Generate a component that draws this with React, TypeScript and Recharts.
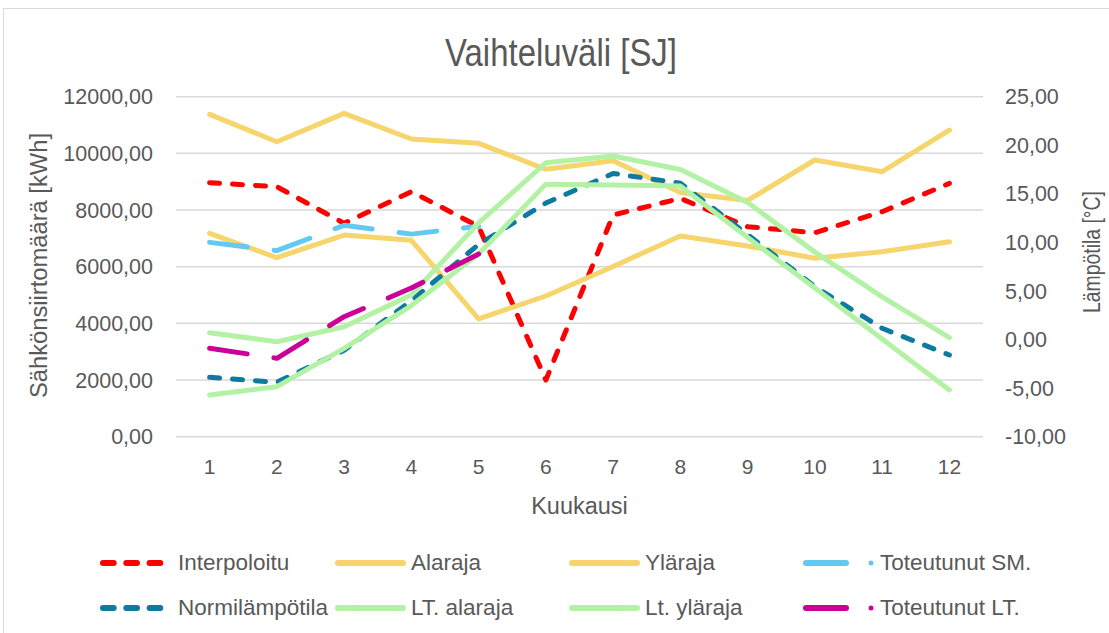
import { ComposedChart, Line, XAxis, YAxis, CartesianGrid } from 'recharts';

// values
const months = [1, 2, 3, 4, 5, 6, 7, 8, 9, 10, 11, 12];
const interpoloitu = [8965, 8824, 7531, 8650, 7420, 2000, 7824, 8412, 7412, 7200, 7941, 8942];
const alaraja = [7178, 6318, 7118, 6930, 4160, 4966, 6010, 7083, 6730, 6296, 6530, 6883];
const ylaraja = [11378, 10411, 11413, 10506, 10354, 9437, 9741, 8620, 8340, 9766, 9353, 10824];
const toteutunutSM = [6859, 6565, 7460, 7150, 7430];
const normilampotila = [-3.89, -4.4, -1.1, 4.0, 9.8, 14.05, 17.1, 16.1, 10.8, 5.44, 1.16, -1.59];
const ltAlaraja = [-5.71, -4.85, -0.9, 3.5, 8.8, 16.0, 15.9, 15.8, 10.5, 5.3, 0.05, -5.19];
const ltYlaraja = [0.71, -0.22, 1.32, 4.6, 12.0, 18.2, 18.9, 17.5, 14.1, 9.0, 4.4, 0.19];
const toteutunutLT = [-0.9, -1.93, 2.35, 5.3, 8.8];

const kwhTicks = [0, 2000, 4000, 6000, 8000, 10000, 12000];
const tempTicks = [-10, -5, 0, 5, 10, 15, 20, 25];

const rows = months.map((m, i) => ({
  month: m,
  interpoloitu: interpoloitu[i],
  alaraja: alaraja[i],
  ylaraja: ylaraja[i],
  toteutunutSM: toteutunutSM[i],
  normi: normilampotila[i],
  ltAla: ltAlaraja[i],
  ltYla: ltYlaraja[i],
  toteutunutLT: toteutunutLT[i],
}));

const SHORT = '10 13';
const LONG = '38 27';

const series = [
  { key: 'interpoloitu', name: 'Interpoloitu', color: '#ff0000', dash: SHORT, axis: 'left' },
  { key: 'alaraja', name: 'Alaraja', color: '#f5d56c', dash: undefined, axis: 'left' },
  { key: 'ylaraja', name: 'Yläraja', color: '#f5d56c', dash: undefined, axis: 'left' },
  { key: 'toteutunutSM', name: 'Toteutunut SM.', color: '#62c9f0', dash: LONG, axis: 'left' },
  { key: 'normi', name: 'Normilämpötila', color: '#0e7aa0', dash: SHORT, axis: 'right' },
  { key: 'ltAla', name: 'LT. alaraja', color: '#b3f2a5', dash: undefined, axis: 'right' },
  { key: 'ltYla', name: 'Lt. yläraja', color: '#b3f2a5', dash: undefined, axis: 'right' },
  { key: 'toteutunutLT', name: 'Toteutunut LT.', color: '#cc0099', dash: LONG, axis: 'right' },
];

const TEXT = '#595959';
const FONT = "'Liberation Sans', Arial, sans-serif";

const fmt = (v: number) => v.toFixed(2).replace('.', ',');

const legendCols = [100, 335, 569, 803];
const legendRowsY = [563, 608];

function LegendItem({ s, x, y }: { s: typeof series[number]; x: number; y: number }) {
  const isLong = s.dash === LONG;
  const end = isLong ? x + 46 : s.dash ? x + 65 : x + 71;
  const textX = isLong ? x + 77 : s.dash ? x + 78 : x + 76;
  return (
    <g>
      <line x1={x + 3} y1={y} x2={end - 3} y2={y} stroke={s.color} strokeWidth={6}
        strokeDasharray={s.dash === SHORT ? '10.7 12.6' : undefined} strokeLinecap="round" />
      {isLong && <circle cx={x + 68} cy={y} r={2.5} fill={s.color} />}
      <text x={textX} y={y - 1} dominantBaseline="central" fontSize={22.5} fontFamily={FONT} fill={TEXT}>
        {s.name}
      </text>
    </g>
  );
}

export default function App() {
  return (
    <div style={{ position: 'absolute', left: 0, top: 0, width: 1109, height: 633, background: '#fff', overflow: 'hidden' }}>
      <div style={{ position: 'absolute', left: 3, top: 8, width: 1140, height: 660, border: '1.5px solid #d9d9d9' }} />
      <ComposedChart width={1109} height={633} data={rows}
        margin={{ top: 96.7, right: 46, bottom: 166.3, left: 96 }}
        style={{ position: 'absolute', left: 0, top: 0 }}>
        <CartesianGrid vertical={false} stroke="#d9d9d9" strokeWidth={1.5} yAxisId="left" />
        <XAxis dataKey="month" height={30} axisLine={false} tickLine={false} tickSize={0} tickMargin={22}
          padding={{ left: 33.6, right: 33.6 }}
          tick={{ fontSize: 21, fill: TEXT, fontFamily: FONT }} interval={0} />
        <YAxis yAxisId="left" width={80} domain={[0, 12000]} ticks={kwhTicks} axisLine={false} tickLine={false}
          tickSize={0} tickMargin={23} tickFormatter={fmt}
          tick={{ fontSize: 21.5, fill: TEXT, fontFamily: FONT }} />
        <YAxis yAxisId="right" orientation="right" width={80} domain={[-10, 25]} ticks={tempTicks} axisLine={false}
          tickLine={false} tickSize={0} tickMargin={22} tickFormatter={fmt}
          tick={{ fontSize: 21.5, fill: TEXT, fontFamily: FONT }} />
        {series.map((s) => (
          <Line key={s.key} yAxisId={s.axis} dataKey={s.key} name={s.name} type="linear" stroke={s.color}
            strokeWidth={5} strokeDasharray={s.dash} strokeLinecap="round" strokeLinejoin="round"
            dot={false} activeDot={false} isAnimationActive={false} connectNulls={false} />
        ))}
      </ComposedChart>
      <svg width={1109} height={633} style={{ position: 'absolute', left: 0, top: 0, pointerEvents: 'none' }}>
        <text x={561} y={52.5} textAnchor="middle" dominantBaseline="central" fontSize={39} fontFamily={FONT}
          fill={TEXT} textLength={232} lengthAdjust="spacingAndGlyphs">Vaihteluväli [SJ]</text>
        <text transform="translate(39 265.5) rotate(-90)" textAnchor="middle" dominantBaseline="central"
          fontSize={23} fontFamily={FONT} fill={TEXT} textLength={265} lengthAdjust="spacingAndGlyphs">
          Sähkönsiirtomäärä [kWh]
        </text>
        <text transform="translate(1092 252) rotate(-90)" textAnchor="middle" dominantBaseline="central"
          fontSize={23} fontFamily={FONT} fill={TEXT} textLength={122} lengthAdjust="spacingAndGlyphs">
          Lämpötila [°C]
        </text>
        <text x={579.5} y={505.5} textAnchor="middle" dominantBaseline="central" fontSize={23.5}
          fontFamily={FONT} fill={TEXT}>Kuukausi</text>
        {series.map((s, i) => (
          <LegendItem key={s.key} s={s} x={legendCols[i % 4]} y={legendRowsY[Math.floor(i / 4)]} />
        ))}
      </svg>
    </div>
  );
}
